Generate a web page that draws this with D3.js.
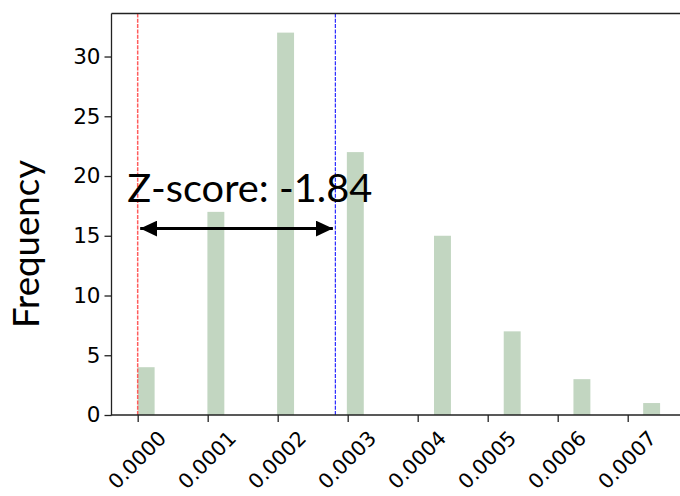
<!DOCTYPE html>
<html lang="en">
<head>
	<meta charset="utf-8">
	<title>Z-score histogram</title>
	<script type="text/javascript" src="https://cdn.jsdelivr.net/npm/d3@7/dist/d3.min.js" charset="utf-8"></script>
	<style>
		body { margin: 0; background: white; }
		.tick text { font-family: "DejaVu Sans", sans-serif; }
	</style>
</head>
<body>
	<div id="chart">
		<script type="text/javascript">

			// histogram bins (left edge of each non-empty bin) and counts
			var binStart = [0.0000000, 0.0000996, 0.0001992, 0.0002988, 0.0004233, 0.0005229, 0.0006225, 0.0007221];
			var counts = [4, 17, 32, 22, 15, 7, 3, 1];
			var binWidth = 0.0000249;
			var xTicks = [0.0000, 0.0001, 0.0002, 0.0003, 0.0004, 0.0005, 0.0006, 0.0007];
			var yTicks = [0, 5, 10, 15, 20, 25, 30];
			// observed value (red) and mean of null distribution (blue)
			var observed = 0.0;
			var nullMean = 0.0002824;
			var zLabel = "Z-score: -1.84";
			var arrowY = 15.6;

			var width = 680, height = 496;
			var margin = {top: 13.5, left: 111.5, bottom: 415};

			var svg = d3.select("#chart")
				.append("svg")
				.attr("width", width)
				.attr("height", height);

			var xScale = d3.scaleLinear()
				.domain([-0.0000374, 0.000784])
				.range([margin.left, 686.5]);

			var yScale = d3.scaleLinear()
				.domain([0, 33.6])
				.range([margin.bottom, margin.top]);

			// clip everything to the axes box
			svg.append("clipPath")
				.attr("id", "plotclip")
				.append("rect")
				.attr("x", margin.left)
				.attr("y", margin.top)
				.attr("width", 686.5 - margin.left)
				.attr("height", margin.bottom - margin.top);

			var plot = svg.append("g").attr("clip-path", "url(#plotclip)");

			// bars
			plot.selectAll("rect.bar")
				.data(counts)
				.enter()
					.append("rect")
					.attr("class", "bar")
					.attr("x", function(d, i){ return xScale(binStart[i]); })
					.attr("y", function(d){ return yScale(d); })
					.attr("width", function(d, i){ return xScale(binStart[i] + binWidth) - xScale(binStart[i]) - 0.5; })
					.attr("height", function(d){ return yScale(0) - yScale(d); })
					.attr("fill", "#c2d6c1");

			// vertical reference lines
			plot.append("line")
				.attr("x1", xScale(observed)).attr("x2", xScale(observed))
				.attr("y1", margin.top).attr("y2", margin.bottom)
				.attr("stroke", "#ff5c5c")
				.attr("stroke-width", 1.5)
				.attr("stroke-dasharray", "4,1.3");

			plot.append("line")
				.attr("x1", xScale(nullMean)).attr("x2", xScale(nullMean))
				.attr("y1", margin.top).attr("y2", margin.bottom)
				.attr("stroke", "#2a2aff")
				.attr("stroke-width", 1.2)
				.attr("stroke-dasharray", "4,1.3");

			// axes
			var xAxis = d3.axisBottom(xScale)
				.tickValues(xTicks)
				.tickSize(7)
				.tickFormat(d3.format(".4f"));

			var yAxis = d3.axisLeft(yScale)
				.tickValues(yTicks)
				.tickSize(7)
				.tickPadding(4);

			var gx = svg.append("g")
				.attr("transform", "translate(0," + margin.bottom + ")")
				.call(xAxis);
			gx.select(".domain").remove();
			gx.selectAll(".tick line").attr("stroke", "#222").attr("stroke-width", 1.3);
			gx.selectAll(".tick text")
				.attr("font-size", 20.5)
				.attr("fill", "#000")
				.attr("text-anchor", "middle")
				.attr("dominant-baseline", "central")
				.attr("y", 0)
				.attr("dy", 0)
				.attr("transform", "translate(-1,45) rotate(-45)");

			var gy = svg.append("g")
				.attr("transform", "translate(" + margin.left + ",0)")
				.call(yAxis);
			gy.select(".domain").remove();
			gy.selectAll(".tick line").attr("stroke", "#222").attr("stroke-width", 1.3);
			gy.selectAll(".tick text")
				.attr("font-size", 21.5)
				.attr("fill", "#000");

			// spines (left, top, bottom)
			svg.append("line")
				.attr("x1", margin.left).attr("x2", margin.left)
				.attr("y1", margin.top).attr("y2", margin.bottom)
				.attr("stroke", "#222").attr("stroke-width", 1.3);
			svg.append("line")
				.attr("x1", margin.left).attr("x2", width)
				.attr("y1", margin.top).attr("y2", margin.top)
				.attr("stroke", "#222").attr("stroke-width", 1.3);
			svg.append("line")
				.attr("x1", margin.left - 0.6).attr("x2", width)
				.attr("y1", margin.bottom).attr("y2", margin.bottom)
				.attr("stroke", "#222").attr("stroke-width", 1.3);

			// double headed arrow between observed and null mean
			var defs = svg.append("defs");
			defs.append("marker")
				.attr("id", "head")
				.attr("viewBox", "0 0 17 16")
				.attr("refX", 17).attr("refY", 8)
				.attr("markerWidth", 17).attr("markerHeight", 16)
				.attr("markerUnits", "userSpaceOnUse")
				.attr("orient", "auto-start-reverse")
				.append("path")
				.attr("d", "M0,0 L17,8 L0,16 Z")
				.attr("fill", "#000");

			svg.append("line")
				.attr("x1", xScale(observed) + 2.5)
				.attr("x2", xScale(nullMean) - 2.5)
				.attr("y1", yScale(arrowY))
				.attr("y2", yScale(arrowY))
				.attr("stroke", "#000")
				.attr("stroke-width", 3)
				.attr("marker-start", "url(#head)")
				.attr("marker-end", "url(#head)");

			// z-score label
			svg.append("text")
				.attr("x", 127.3)
				.attr("y", 201.7)
				.attr("font-family", "Lato, 'Open Sans', sans-serif")
				.attr("font-size", 39)
				.attr("textLength", 245)
				.attr("lengthAdjust", "spacingAndGlyphs")
				.attr("fill", "#000")
				.text(zLabel);

			// y axis label
			svg.append("text")
				.attr("transform", "translate(39,244) rotate(-90)")
				.attr("text-anchor", "middle")
				.attr("font-family", "Lato, 'Open Sans', sans-serif")
				.attr("font-size", 36)
				.attr("textLength", 168)
				.attr("lengthAdjust", "spacingAndGlyphs")
				.attr("fill", "#000")
				.text("Frequency");

		</script>
	</div>
</body>
</html>
